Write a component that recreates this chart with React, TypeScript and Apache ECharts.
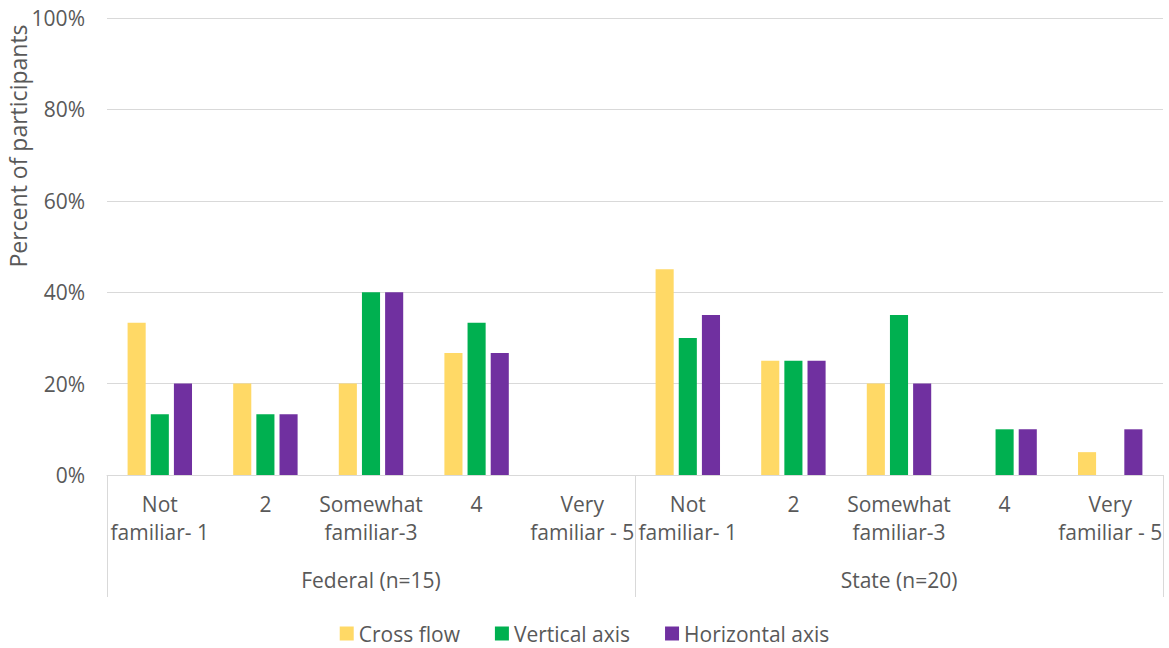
import React, { useEffect, useRef } from "react";
import * as echarts from "echarts";

const familiarity = [
  "Not\nfamiliar- 1",
  "2",
  "Somewhat\nfamiliar-3",
  "4",
  "Very\nfamiliar - 5",
];
const groups = ["Federal (n=15)", "State (n=20)"];
const categories = [...familiarity, ...familiarity];

const crossFlow = [33.3, 20, 20, 26.7, 0, 45, 25, 20, 0, 5];
const verticalAxis = [13.3, 13.3, 40, 33.3, 0, 30, 25, 35, 10, 0];
const horizontalAxis = [20, 13.3, 40, 26.7, 0, 35, 25, 20, 10, 10];

const yTicks = { min: 0, max: 100, interval: 20 };
const seriesNames = ["Cross flow", "Vertical axis", "Horizontal axis"];
const colors = ["#FFD966", "#00B050", "#7030A0"];

const FONT = "'Open Sans', sans-serif";
const TEXT = "#595959";
const GRID = "#D9D9D9";
const FS = 21;

export default function App() {
  const ref = useRef<HTMLDivElement>(null);
  useEffect(() => {
    if (!ref.current) return;
    const chart = echarts.init(ref.current, undefined, { renderer: "svg" });
    const values = [crossFlow, verticalAxis, horizontalAxis];
    chart.setOption({
      animation: false,
      textStyle: { fontFamily: FONT, color: TEXT },
      grid: { left: 107, right: 6, top: 18, bottom: 173, containLabel: false },
      legend: {
        top: 618,
        left: "center",
        icon: "rect",
        itemWidth: 14,
        itemHeight: 14,
        itemGap: 35,
        textStyle: { fontFamily: FONT, fontSize: FS, color: TEXT },
        data: seriesNames,
      },
      graphic: [
        {
          type: "text",
          x: 18,
          y: 146,
          rotation: Math.PI / 2,
          style: {
            text: "Percent of participants",
            fontFamily: FONT,
            fontSize: 23,
            fill: TEXT,
            textAlign: "center",
            textVerticalAlign: "middle",
          },
        },
      ],
      xAxis: [
        {
          type: "category",
          data: categories,
          position: "bottom",
          axisLine: { show: true, lineStyle: { color: GRID, width: 1 } },
          axisTick: { show: false },
          axisLabel: {
            interval: 0,
            margin: 15,
            fontFamily: FONT,
            fontSize: FS,
            lineHeight: 28,
            color: TEXT,
            hideOverlap: false,
          },
        },
        {
          type: "category",
          data: groups,
          position: "bottom",
          axisLine: { show: false },
          axisTick: {
            show: true,
            interval: 0,
            length: 122,
            lineStyle: { color: GRID, width: 1 },
          },
          axisLabel: {
            interval: 0,
            margin: 91,
            fontFamily: FONT,
            fontSize: FS,
            lineHeight: 28,
            color: TEXT,
          },
        },
      ],
      yAxis: {
        type: "value",
        min: yTicks.min,
        max: yTicks.max,
        interval: yTicks.interval,
        axisLine: { show: false },
        axisTick: { show: false },
        splitLine: { lineStyle: { color: GRID, width: 1 } },
        axisLabel: {
          formatter: "{value}%",
          margin: 22,
          fontFamily: FONT,
          fontSize: FS,
          color: TEXT,
        },
      },
      series: seriesNames.map((name, i) => ({
        name,
        type: "bar",
        xAxisIndex: 0,
        data: values[i],
        barGap: "28%",
        barCategoryGap: "39%",
        itemStyle: { color: colors[i] },
      })),
    });
    return () => chart.dispose();
  }, []);
  return (
    <div
      ref={ref}
      style={{ position: "fixed", left: 0, top: 0, width: 1169, height: 648, background: "#fff" }}
    />
  );
}
